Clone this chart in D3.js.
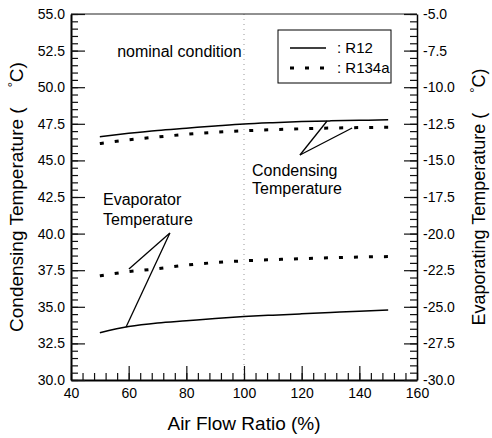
<!DOCTYPE html>
<html>
<head>
<meta charset="utf-8">
<script src="https://cdn.jsdelivr.net/npm/d3@7"></script>
<style>
  body { margin: 0; background: #fff; }
  svg { font-family: "Liberation Sans", Arial, sans-serif; }
</style>
</head>
<body>
<div id="chart"></div>
<script>
// Data
const airFlow = [50, 60, 70, 80, 90, 100, 110, 120, 130, 140, 150];
// Condensing temperature (left axis, °C)
const condR12   = [46.62, 46.85, 47.05, 47.2, 47.35, 47.49, 47.58, 47.65, 47.7, 47.74, 47.77];
const condR134a = [46.15, 46.4, 46.6, 46.78, 46.92, 47.02, 47.1, 47.16, 47.21, 47.24, 47.26];
// Evaporating temperature (right axis, °C)
const evapR12   = [-26.77, -26.35, -26.1, -25.95, -25.8, -25.67, -25.57, -25.48, -25.39, -25.3, -25.22];
const evapR134a = [-22.88, -22.6, -22.4, -22.15, -21.98, -21.86, -21.78, -21.71, -21.65, -21.6, -21.57];

const xTicks = [40, 60, 80, 100, 120, 140, 160];
const leftTicks = [30, 32.5, 35, 37.5, 40, 42.5, 45, 47.5, 50, 52.5, 55];
const rightTicks = [-30, -27.5, -25, -22.5, -20, -17.5, -15, -12.5, -10, -7.5, -5];
const nominalX = 100;

// Annotations in data units (left axis)
const condLeader = { from: [119.4, 45.37], to: [[128.8, 47.69], [137.5, 47.21]] };
const evapLeader = { from: [74.3, 40.04], to: [[60.1, 37.58], [59.1, 33.62]] };

const w = 492, h = 438;
const margin = { top: 14, right: 75, bottom: 58, left: 71 };

const svg = d3.select("#chart").append("svg")
    .attr("width", w).attr("height", h);

const x = d3.scaleLinear().domain([40, 160]).range([margin.left, w - margin.right]);
const yL = d3.scaleLinear().domain([30, 55]).range([h - margin.bottom, margin.top]);
const yR = d3.scaleLinear().domain([-30, -5]).range([h - margin.bottom, margin.top]);

const x0 = x(40), x1 = x(160), yTop = yL(55), yBot = yL(30);

// nominal condition line
svg.append("line")
    .attr("x1", x(nominalX)).attr("x2", x(nominalX))
    .attr("y1", yTop).attr("y2", yBot)
    .attr("stroke", "#999").attr("stroke-width", 1)
    .attr("stroke-dasharray", "1,4");

// top border
svg.append("line")
    .attr("x1", x0).attr("x2", x1).attr("y1", yTop).attr("y2", yTop)
    .attr("stroke", "#222").attr("stroke-width", 1);

// x axis (major + minor, ticks pointing inwards)
const fmt1 = v => d3.format(".1f")(v).replace("\u2212", "-");
svg.append("g")
    .attr("transform", `translate(0,${yBot})`)
    .call(d3.axisBottom(x).tickValues(xTicks).tickSizeInner(-14).tickSizeOuter(0).tickPadding(8))
    .call(g => g.select(".domain").attr("stroke-width", 2));
svg.append("g")
    .attr("transform", `translate(0,${yBot})`)
    .call(d3.axisBottom(x).tickValues(d3.range(40, 161, 4)).tickSizeInner(-7).tickSizeOuter(0).tickFormat(""))
    .call(g => g.select(".domain").remove());

// left axis
svg.append("g")
    .attr("transform", `translate(${x0},0)`)
    .call(d3.axisLeft(yL).tickValues(leftTicks).tickFormat(fmt1).tickSizeInner(-14).tickSizeOuter(0).tickPadding(6))
    .call(g => g.select(".domain").attr("stroke-width", 2));
svg.append("g")
    .attr("transform", `translate(${x0},0)`)
    .call(d3.axisLeft(yL).tickValues(d3.range(30, 55.01, 0.5)).tickSizeInner(-7).tickSizeOuter(0).tickFormat(""))
    .call(g => g.select(".domain").remove());

// right axis
svg.append("g")
    .attr("transform", `translate(${x1},0)`)
    .call(d3.axisRight(yR).tickValues(rightTicks).tickFormat(fmt1).tickSizeInner(-13).tickSizeOuter(0).tickPadding(6))
    .call(g => g.select(".domain").attr("stroke-width", 1.5));
svg.append("g")
    .attr("transform", `translate(${x1},0)`)
    .call(d3.axisRight(yR).tickValues(d3.range(-30, -4.99, 0.5)).tickSizeInner(-7).tickSizeOuter(0).tickFormat(""))
    .call(g => g.select(".domain").remove());

svg.selectAll(".tick text")
    .attr("font-size", 14).attr("font-family", "Liberation Sans, Arial, sans-serif").attr("fill", "#000");
svg.selectAll(".tick line").attr("stroke", "#111").attr("stroke-width", 1.2);

// curves
const lineL = d3.line().x((d, i) => x(airFlow[i])).y(d => yL(d)).curve(d3.curveMonotoneX);
const lineR = d3.line().x((d, i) => x(airFlow[i])).y(d => yR(d)).curve(d3.curveMonotoneX);

const series = [
  { data: condR12, line: lineL, dash: null },
  { data: condR134a, line: lineL, dash: "4,11" },
  { data: evapR12, line: lineR, dash: null },
  { data: evapR134a, line: lineR, dash: "4,11" }
];
series.forEach(s => {
  svg.append("path")
      .attr("d", s.line(s.data))
      .attr("fill", "none")
      .attr("stroke", "#000")
      .attr("stroke-width", s.dash ? 3 : 1.5)
      .attr("stroke-dasharray", s.dash);
});

// leader lines
[condLeader, evapLeader].forEach(l => {
  l.to.forEach(t => {
    svg.append("line")
        .attr("x1", x(l.from[0])).attr("y1", yL(l.from[1]))
        .attr("x2", x(t[0])).attr("y2", yL(t[1]))
        .attr("stroke", "#000").attr("stroke-width", 1.3);
  });
});

// annotation text
const notes = [
  { text: "nominal condition", x: 56, y: 52.04 },
  { text: "Condensing", x: 102.8, y: 43.93 },
  { text: "Temperature", x: 102.8, y: 42.7 },
  { text: "Evaporator", x: 51.1, y: 41.95 },
  { text: "Temperature", x: 51.1, y: 40.59 }
];
svg.selectAll(".note").data(notes).enter().append("text")
    .attr("x", d => x(d.x)).attr("y", d => yL(d.y))
    .attr("font-size", 16).attr("fill", "#000")
    .text(d => d.text);

// legend
const lg = svg.append("g");
lg.append("rect").attr("x", 278).attr("y", 30).attr("width", 113).attr("height", 53)
    .attr("fill", "#fff").attr("stroke", "#000").attr("stroke-width", 1);
lg.append("line").attr("x1", 290).attr("x2", 326).attr("y1", 48).attr("y2", 48)
    .attr("stroke", "#000").attr("stroke-width", 1.3);
lg.append("line").attr("x1", 290).attr("x2", 330).attr("y1", 68).attr("y2", 68)
    .attr("stroke", "#000").attr("stroke-width", 3).attr("stroke-dasharray", "4,11");
lg.append("text").attr("x", 337).attr("y", 53).attr("font-size", 15).text(": R12");
lg.append("text").attr("x", 337).attr("y", 73).attr("font-size", 15).text(": R134a");

// axis titles
svg.append("text")
    .attr("x", (x0 + x1) / 2).attr("y", h - 8)
    .attr("text-anchor", "middle").attr("font-size", 19)
    .text("Air Flow Ratio (%)");

function degTitle(label, tx, fs) {
  const t = svg.append("text")
      .attr("transform", `translate(${tx},${(yTop + yBot) / 2}) rotate(-90)`)
      .attr("text-anchor", "middle").attr("font-size", fs);
  t.append("tspan").text(label + " (");
  t.append("tspan").attr("dx", 20).attr("dy", -6).attr("font-size", 13).text("°");
  t.append("tspan").attr("dy", 6).text("C)");
}
degTitle("Condensing Temperature", 23, 19);
degTitle("Evaporating Temperature", 485, 18);
</script>
</body>
</html>
